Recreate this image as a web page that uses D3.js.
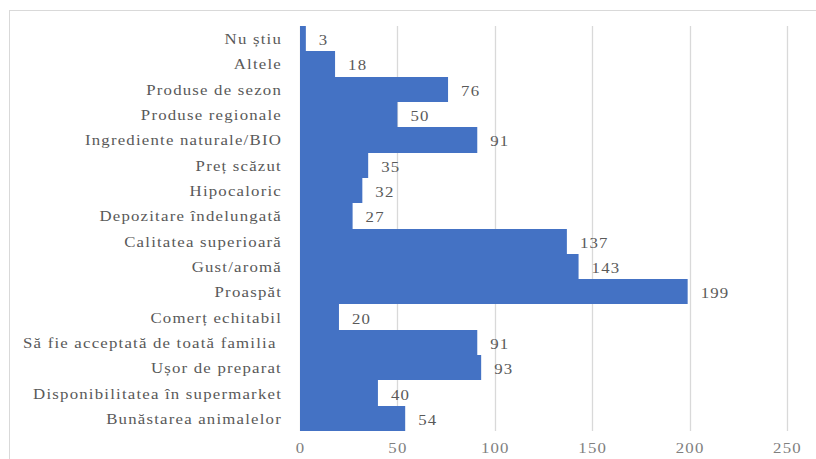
<!DOCTYPE html>
<html>
<head>
<meta charset="utf-8">
<script src="https://cdn.jsdelivr.net/npm/d3@7"></script>
<style>
  html, body { margin: 0; padding: 0; background: #fff; }
  svg { display: block; }
  svg text { font-family: "Liberation Serif", Tinos, "Times New Roman", serif !important; }
</style>
</head>
<body>
<svg id="chart" width="816" height="459"></svg>
<script>
// Reasons for choosing a product (number of answers)
const categories = [
  "Nu știu",
  "Altele",
  "Produse de sezon",
  "Produse regionale",
  "Ingrediente naturale/BIO",
  "Preț scăzut",
  "Hipocaloric",
  "Depozitare îndelungată",
  "Calitatea superioară",
  "Gust/aromă",
  "Proaspăt",
  "Comerț echitabil",
  "Să fie acceptată de toată familia ",
  "Ușor de preparat",
  "Disponibilitatea în supermarket",
  "Bunăstarea animalelor"
];
const values = [3, 18, 76, 50, 91, 35, 32, 27, 137, 143, 199, 20, 91, 93, 40, 54];
const xTicks = [0, 50, 100, 150, 200, 250];

const STRETCH = 1.2;   // wide-set lettering used throughout the chart

const svg = d3.select("#chart");
const W = 816, H = 459;
const plot = { left: 300, right: 787, top: 26, bottom: 431 };

// chart frame
svg.append("rect")
  .attr("x", 9.5).attr("y", 10.5)
  .attr("width", W + 10).attr("height", H + 10)
  .attr("fill", "#fff").attr("stroke", "#d9d9d9").attr("stroke-width", 1);

const x = d3.scaleLinear().domain([0, 250]).range([plot.left, plot.right]);
const y = d3.scaleBand().domain(categories).range([plot.top, plot.bottom]).padding(0);
const y0 = c => Math.round(y(c));
const y1 = c => Math.round(y(c) + y.bandwidth());

// vertical gridlines
svg.append("g")
  .selectAll("line")
  .data(xTicks)
  .join("line")
  .attr("x1", d => Math.round(x(d)) + 0.5)
  .attr("x2", d => Math.round(x(d)) + 0.5)
  .attr("y1", plot.top)
  .attr("y2", plot.bottom)
  .attr("stroke", "#d9d9d9")
  .attr("stroke-width", 1.3);

// bottom axis tick labels
const xAxis = d3.axisBottom(x).tickValues(xTicks).tickSize(0).tickPadding(0);
const gx = svg.append("g")
  .attr("transform", `translate(0,${plot.bottom})`)
  .call(xAxis);
gx.select(".domain").remove();
gx.attr("font-family", null);
gx.selectAll("text")
  .attr("y", 0).attr("dy", null)
  .attr("transform", `translate(0,17) scale(${STRETCH},1)`)
  .attr("dominant-baseline", "central")
  .attr("font-size", 14)
  .attr("letter-spacing", "1px")
  .attr("fill", "#7f7f7f");

// bars
svg.append("g")
  .selectAll("rect")
  .data(values)
  .join("rect")
  .attr("x", x(0))
  .attr("y", (d, i) => y0(categories[i]))
  .attr("width", d => x(d) - x(0))
  .attr("height", (d, i) => y1(categories[i]) - y0(categories[i]))
  .attr("fill", "#4472c4");

// value labels
svg.append("g")
  .selectAll("text")
  .data(values)
  .join("text")
  .attr("transform", (d, i) =>
    `translate(${x(d) + 13},${y(categories[i]) + y.bandwidth() / 2 + 1.5}) scale(${STRETCH},1)`)
  .attr("dominant-baseline", "central")
  .attr("font-size", 14)
  .attr("letter-spacing", "1px")
  .attr("fill", "#595959")
  .text(d => d);

// category labels
svg.append("g")
  .selectAll("text")
  .data(categories)
  .join("text")
  .attr("transform", d =>
    `translate(282,${y(d) + y.bandwidth() / 2 + 0.5}) scale(${STRETCH},1)`)
  .attr("dominant-baseline", "central")
  .attr("text-anchor", "end")
  .attr("font-size", 14)
  .attr("letter-spacing", "1px")
  .attr("fill", "#595959")
  .style("white-space", "pre")
  .text(d => d);
</script>
</body>
</html>
